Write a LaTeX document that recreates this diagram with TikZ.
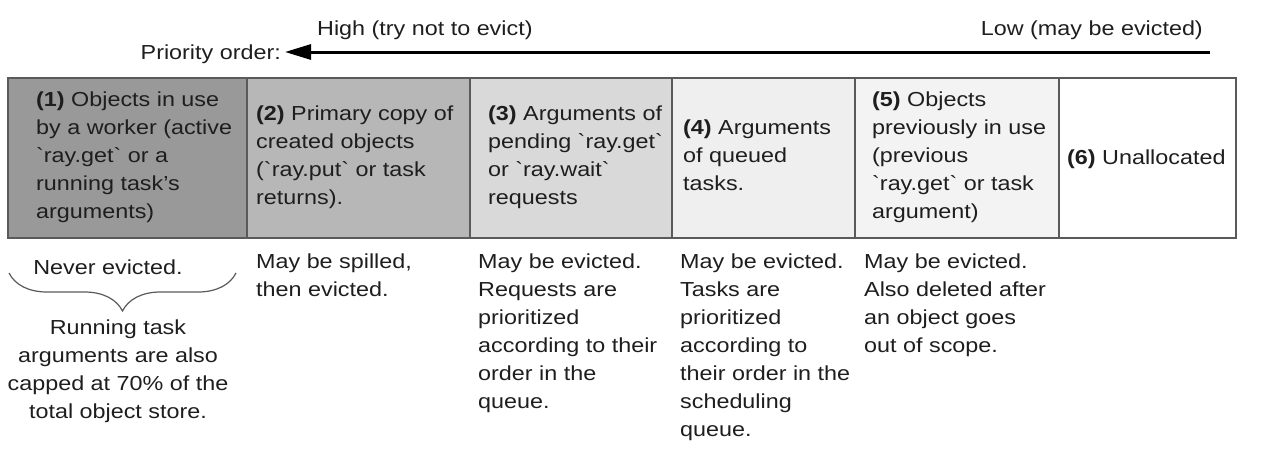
\documentclass[tikz,border=0pt]{standalone}
\usepackage{fontspec}
\setmainfont{Liberation Sans}[FakeStretch=1.15, Ligatures=TeXOff]
\usetikzlibrary{arrows.meta,decorations.pathreplacing}
\definecolor{txt}{HTML}{1E1E1E}
\definecolor{edge}{HTML}{5A5A5A}
\definecolor{gA}{HTML}{999999}
\definecolor{gB}{HTML}{B7B7B7}
\definecolor{gC}{HTML}{D9D9D9}
\definecolor{gD}{HTML}{EFEFEF}
\definecolor{gE}{HTML}{F3F3F3}
\tikzset{
  cell/.style={draw=edge, line width=1.3pt, anchor=north west, minimum height=160pt, inner sep=0pt, outer sep=0pt},
  lbl/.style={text=txt, inner sep=0pt, font=\fontsize{20.3}{28}\selectfont},
  para/.style={lbl, align=left, execute at begin node=\strut, execute at end node=\strut},
  cpara/.style={lbl, align=center, execute at begin node=\strut, execute at end node=\strut},
}
\begin{document}
\begin{tikzpicture}[x=1pt,y=-1pt]
\useasboundingbox (0,0) rectangle (1280,463);
% header
\node[lbl, anchor=base east] (prio) at (281,59) {Priority order:};
\node[lbl, anchor=base west] (high) at (317,35) {High (try not to evict)};
\node[lbl, anchor=base east] (low) at (1203,35) {Low (may be evicted)};
\coordinate (arrstart) at (1210,52);
\coordinate (arrend) at (285,52);
\draw[line width=3pt, -{Triangle[length=26pt,width=15pt]}] (arrstart) -- (arrend);
% cells
\node[cell, fill=gA, minimum width=239pt] (c1) at (8,78) {};
\node[cell, fill=gB, minimum width=223pt] (c2) at (247,78) {};
\node[cell, fill=gC, minimum width=202pt] (c3) at (470,78) {};
\node[cell, fill=gD, minimum width=183pt] (c4) at (672,78) {};
\node[cell, fill=gE, minimum width=204pt] (c5) at (855,78) {};
\node[cell, fill=white, minimum width=177pt] (c6) at (1059,78) {};
% cell texts
\node[para, anchor=west] (t1) at (36,159) {\textbf{(1)} Objects in use\\by a worker (active\\`ray.get` or a\\running task’s\\arguments)};
\node[para, anchor=west] (t2) at (256,159) {\textbf{(2)} Primary copy of\\created objects\\(`ray.put` or task\\returns).};
\node[para, anchor=west] (t3) at (488,159) {\textbf{(3)} Arguments of\\pending `ray.get`\\or `ray.wait`\\requests};
\node[para, anchor=west] (t4) at (683,159) {\textbf{(4)} Arguments\\of queued\\tasks.};
\node[para, anchor=west] (t5) at (872,159) {\textbf{(5)} Objects\\previously in use\\(previous\\`ray.get` or task\\argument)};
\node[para, anchor=west] (t6) at (1067,159) {\textbf{(6)} Unallocated};
% bottom texts
\node[lbl, anchor=base] (never) at (108,274) {Never evicted.};
\coordinate (brL) at (9,273);
\coordinate (brR) at (236,273);
\draw[edge, line width=1.2pt, decorate, decoration={brace, amplitude=38pt, mirror}] (brL) -- (brR);
\node[cpara, anchor=north] (cap) at (118,320) {Running task\\arguments are also\\capped at 70\% of the\\total object store.};
\node[para, anchor=north west] (b2) at (256,254) {May be spilled,\\then evicted.};
\node[para, anchor=north west] (b3) at (478,254) {May be evicted.\\Requests are\\prioritized\\according to their\\order in the\\queue.};
\node[para, anchor=north west] (b4) at (680,254) {May be evicted.\\Tasks are\\prioritized\\according to\\their order in the\\scheduling\\queue.};
\node[para, anchor=north west] (b5) at (864,254) {May be evicted.\\Also deleted after\\an object goes\\out of scope.};
\end{tikzpicture}
\end{document}
